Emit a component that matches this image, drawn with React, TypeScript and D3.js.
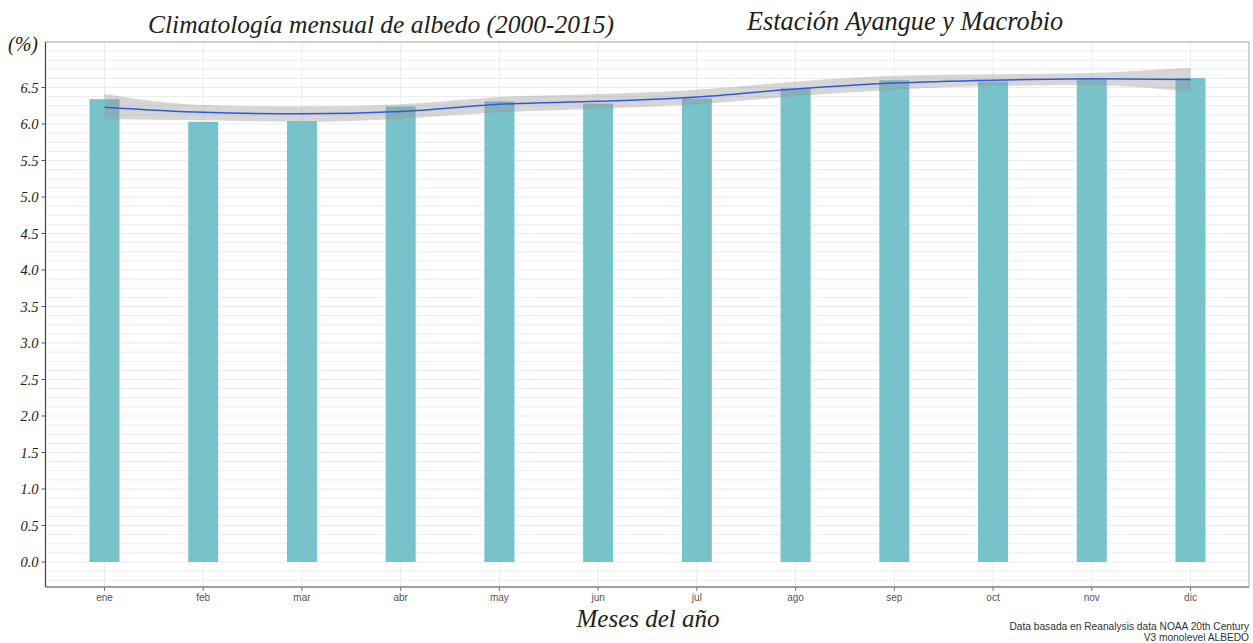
import React from "react";
import * as d3 from "d3";

const months = ["ene", "feb", "mar", "abr", "may", "jun", "jul", "ago", "sep", "oct", "nov", "dic"];
const albedo = [6.34, 6.03, 6.04, 6.24, 6.31, 6.28, 6.35, 6.49, 6.6, 6.58, 6.62, 6.63];
const smoothFit = [6.23, 6.16, 6.14, 6.17, 6.27, 6.31, 6.37, 6.48, 6.56, 6.6, 6.62, 6.61];
const bandLower = [6.07, 6.05, 6.03, 6.07, 6.16, 6.21, 6.27, 6.38, 6.47, 6.52, 6.53, 6.44];
const bandUpper = [6.41, 6.26, 6.24, 6.27, 6.37, 6.41, 6.47, 6.58, 6.66, 6.68, 6.7, 6.77];
const yTicks = [0, 0.5, 1, 1.5, 2, 2.5, 3, 3.5, 4, 4.5, 5, 5.5, 6, 6.5];

const W = 1253;
const H = 643;
const left = 45.5;
const right = 1249;
const top = 42;
const bottom = 587;

export default function App() {
  const y = d3.scaleLinear().domain([0, 6.5]).range([562, 87.5]);
  const x = d3
    .scalePoint<string>()
    .domain(months)
    .range([104.5, 1190.5]);
  const barW = 30;

  const minorTicks = d3.range(-0.25, 7.13, 0.125);

  const idx = months.map((_, i) => i);
  const lineGen = d3
    .line<number>()
    .x((i) => x(months[i])!)
    .y((i) => y(smoothFit[i]))
    .curve(d3.curveMonotoneX);
  const areaGen = d3
    .area<number>()
    .x((i) => x(months[i])!)
    .y0((i) => y(bandLower[i]))
    .y1((i) => y(bandUpper[i]))
    .curve(d3.curveMonotoneX);

  const serif = "'Liberation Serif', 'DejaVu Serif', serif";
  const sans = "'Liberation Sans', Arial, sans-serif";

  return (
    <svg
      width={W}
      height={H}
      style={{ position: "absolute", left: 0, top: 0, background: "#fff" }}
    >
      <rect x={0} y={0} width={W} height={H} fill="#fff" />
      {/* grid */}
      {minorTicks.map((t, i) => (
        <line
          key={"g" + i}
          x1={left}
          x2={right}
          y1={y(t)}
          y2={y(t)}
          stroke="#ebebeb"
          strokeWidth={1}
        />
      ))}
      {months.map((m) => (
        <line
          key={"v" + m}
          x1={x(m)}
          x2={x(m)}
          y1={top}
          y2={bottom}
          stroke="#ebebeb"
          strokeWidth={1}
        />
      ))}
      {/* bars */}
      {months.map((m, i) => (
        <rect
          key={"b" + m}
          x={x(m)! - barW / 2}
          y={y(albedo[i])}
          width={barW}
          height={y(0) - y(albedo[i])}
          fill="#78c2ca"
        />
      ))}
      {/* band */}
      <path d={areaGen(idx)!} fill="#999999" fillOpacity={0.4} />
      <path d={lineGen(idx)!} fill="none" stroke="#3358e0" strokeWidth={1.5} />
      {/* panel border */}
      <line x1={left} x2={right} y1={top} y2={top} stroke="#aaaaaa" strokeWidth={1} />
      <line x1={right} x2={right} y1={top} y2={bottom} stroke="#aaaaaa" strokeWidth={1} />
      <line x1={left} x2={left} y1={top} y2={bottom} stroke="#444" strokeWidth={1.2} />
      <line x1={left} x2={right} y1={bottom} y2={bottom} stroke="#444" strokeWidth={1.2} />
      {/* y ticks */}
      {yTicks.map((t) => (
        <g key={"yt" + t}>
          <line x1={left - 4} x2={left} y1={y(t)} y2={y(t)} stroke="#555" />
          <text
            x={left - 7}
            y={y(t)}
            dy="0.35em"
            textAnchor="end"
            fontFamily={serif}
            fontStyle="italic"
            fontSize={14.5}
            fill="#222"
          >
            {t.toFixed(1)}
          </text>
        </g>
      ))}
      {/* x ticks */}
      {months.map((m) => (
        <g key={"xt" + m}>
          <line x1={x(m)} x2={x(m)} y1={bottom} y2={bottom + 4} stroke="#777" />
          <text
            x={x(m)}
            y={bottom + 14}
            textAnchor="middle"
            fontFamily={sans}
            fontSize={10}
            fill="#555"
          >
            {m}
          </text>
        </g>
      ))}
      {/* titles */}
      <text x={148} y={33} fontFamily={serif} fontStyle="italic" fontSize={25.5} fill="#222">
        Climatología mensual de albedo (2000-2015)
      </text>
      <text x={747} y={30} fontFamily={serif} fontStyle="italic" fontSize={26.3} fill="#222">
        Estación Ayangue y Macrobio
      </text>
      <text x={8} y={51} fontFamily={serif} fontStyle="italic" fontSize={20} fill="#222">
        (%)
      </text>
      <text
        x={648}
        y={627}
        textAnchor="middle"
        fontFamily={serif}
        fontStyle="italic"
        fontSize={25}
        fill="#222"
      >
        Meses del año
      </text>
      <text x={1249} y={630} textAnchor="end" fontFamily={sans} fontSize={10.2} fill="#333">
        Data basada en Reanalysis data NOAA 20th Century
      </text>
      <text x={1249} y={641} textAnchor="end" fontFamily={sans} fontSize={10.2} fill="#333">
        V3 monolevel ALBEDO
      </text>
    </svg>
  );
}
